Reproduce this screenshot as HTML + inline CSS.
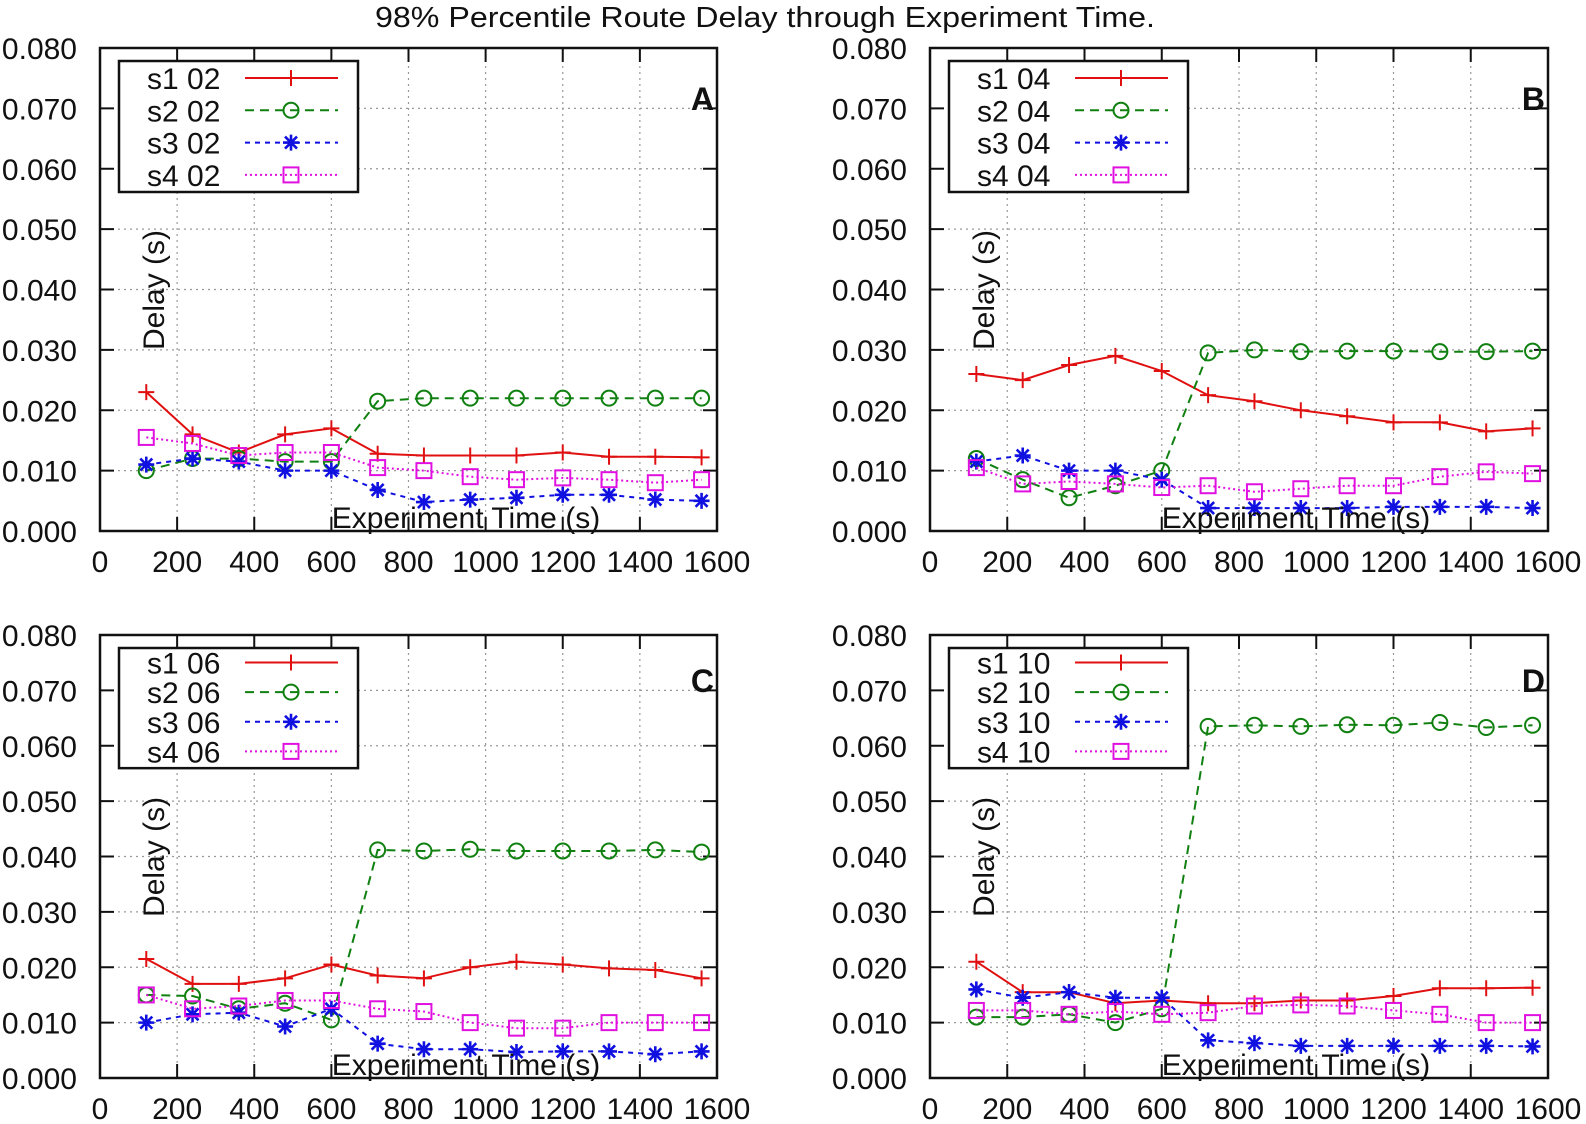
<!DOCTYPE html>
<html><head><meta charset="utf-8"><style>
html,body{margin:0;padding:0;background:#fff;}
svg{display:block;font-family:"Liberation Sans",sans-serif;}
</style></head><body>
<svg id="chart" width="1586" height="1124" viewBox="0 0 1586 1124" xmlns="http://www.w3.org/2000/svg">
<text x="765" y="27" font-size="29" text-anchor="middle" textLength="780" lengthAdjust="spacingAndGlyphs" fill="#111">98% Percentile Route Delay through Experiment Time.</text>
</svg>
<script>
const times = [120,240,360,480,600,720,840,960,1080,1200,1320,1440,1560];
const xTicks = [0,200,400,600,800,1000,1200,1400,1600];
const yTicks = [0.000,0.010,0.020,0.030,0.040,0.050,0.060,0.070,0.080];
const panelLetters = ["A","B","C","D"];
const panelSuffix = ["02","04","06","10"];
const seriesNames = ["s1","s2","s3","s4"];
const aS1 = [.023,.016,.013,.016,.017,.0128,.0125,.0125,.0125,.013,.0123,.0123,.0122];
const aS2 = [.010,.012,.012,.0115,.0115,.0215,.022,.022,.022,.022,.022,.022,.022];
const aS3 = [.011,.012,.0115,.010,.010,.0068,.0048,.0052,.0055,.006,.006,.0052,.005];
const aS4 = [.0155,.0145,.0125,.013,.013,.0105,.010,.009,.0085,.0088,.0085,.008,.0085];
const bS1 = [.026,.025,.0275,.029,.0265,.0225,.0215,.020,.019,.018,.018,.0165,.017];
const bS2 = [.012,.0085,.0055,.0075,.010,.0295,.030,.0297,.0298,.0298,.0297,.0297,.0298];
const bS3 = [.0115,.0125,.010,.010,.0085,.0038,.0038,.0038,.0038,.004,.004,.004,.0038];
const bS4 = [.0105,.0078,.0082,.0078,.0072,.0075,.0065,.007,.0075,.0075,.009,.0098,.0095];
const cS1 = [.0215,.017,.017,.018,.0205,.0185,.018,.020,.021,.0205,.0198,.0195,.018];
const cS2 = [.015,.0148,.0125,.0135,.0105,.0412,.041,.0413,.041,.041,.041,.0412,.0408];
const cS3 = [.010,.0115,.0118,.0093,.0125,.0062,.0052,.0052,.0047,.0048,.0048,.0043,.0048];
const cS4 = [.015,.0125,.013,.014,.014,.0125,.012,.010,.009,.009,.010,.010,.010];
const dS1 = [.021,.0155,.0155,.0135,.014,.0135,.0135,.014,.014,.0148,.0162,.0162,.0163];
const dS2 = [.011,.011,.0115,.010,.0125,.0635,.0637,.0635,.0638,.0637,.0642,.0633,.0637];
const dS3 = [.016,.0145,.0155,.0145,.0145,.0068,.0063,.0058,.0058,.0058,.0058,.0058,.0057];
const dS4 = [.0122,.0122,.0115,.012,.0115,.0118,.013,.0132,.013,.0122,.0115,.010,.010];
const panelData = [[aS1,aS2,aS3,aS4],[bS1,bS2,bS3,bS4],[cS1,cS2,cS3,cS4],[dS1,dS2,dS3,dS4]];

const NS = "http://www.w3.org/2000/svg";
const svg = document.getElementById("chart");
const panels = [{l:100,r:717,t:48,b:531},{l:930,r:1548,t:48,b:531},{l:100,r:717,t:635,b:1078},{l:930,r:1548,t:635,b:1078}];
const colors = ["#e01010","#108010","#1010e0","#e010e0"];
const dashes = ["", "9,6", "5,5", "2,3"];

function mk(tag, attrs, parent){
  const e = document.createElementNS(NS, tag);
  for (const k in attrs) e.setAttribute(k, attrs[k]);
  parent.appendChild(e);
  return e;
}
function marker(g, kind, x, y, col){
  if (kind===0){
    mk("path",{d:`M${x-8},${y}H${x+8}M${x},${y-8}V${y+8}`,stroke:col,"stroke-width":2,fill:"none"},g);
  } else if (kind===1){
    mk("circle",{cx:x,cy:y,r:7.5,stroke:col,"stroke-width":2,fill:"none"},g);
  } else if (kind===2){
    mk("path",{d:`M${x-8},${y}H${x+8}M${x},${y-8}V${y+8}M${x-6},${y-6}L${x+6},${y+6}M${x-6},${y+6}L${x+6},${y-6}`,stroke:col,"stroke-width":2.6,fill:"none"},g);
  } else {
    mk("rect",{x:x-7.5,y:y-7.5,width:15,height:15,stroke:col,"stroke-width":2,fill:"none"},g);
  }
}

panels.forEach((p, pi) => {
  const g = mk("g",{},svg);
  
  
  const xs = v => p.l + (v/1600)*(p.r-p.l);
  const ys = v => p.b - (v/0.08)*(p.b-p.t);
  const vs = (p.b-p.t)/483;
  const grid = mk("g",{},g);
  
  
  xTicks.slice(1,-1).forEach(t => mk("line",{x1:xs(t),x2:xs(t),y1:p.t,y2:p.b,stroke:"#999","stroke-width":1.2,"stroke-dasharray":"2,4"},grid));
  yTicks.slice(1,-1).forEach(t => mk("line",{x1:p.l,x2:p.r,y1:ys(t),y2:ys(t),stroke:"#999","stroke-width":1.2,"stroke-dasharray":"2,4"},grid));
  xTicks.forEach(t => {
    mk("line",{x1:xs(t),x2:xs(t),y1:p.b,y2:p.b-14,stroke:"#111","stroke-width":2},g);
    mk("line",{x1:xs(t),x2:xs(t),y1:p.t,y2:p.t+14,stroke:"#111","stroke-width":2},g);
    const tx = mk("text",{x:xs(t),y:p.b+41,"font-size":30,"text-anchor":"middle",fill:"#111"},g);
    
    
    tx.textContent = t;
  });
  yTicks.forEach(t => {
    mk("line",{x1:p.l,x2:p.l+14,y1:ys(t),y2:ys(t),stroke:"#111","stroke-width":2},g);
    mk("line",{x1:p.r,x2:p.r-14,y1:ys(t),y2:ys(t),stroke:"#111","stroke-width":2},g);
    const ty = mk("text",{x:p.l-23,y:ys(t)+11,"font-size":30,"text-anchor":"end",fill:"#111"},g);
    
    
    ty.textContent = t.toFixed(3);
  });
  panelData[pi].forEach((vals, si) => {
    const sg = mk("g",{},g);
    
    
    const pts = vals.map((v,i)=>xs(times[i]).toFixed(1)+","+ys(v).toFixed(1)).join(" ");
    const pl = mk("polyline",{points:pts,fill:"none",stroke:colors[si],"stroke-width":2},sg);
    if (dashes[si]) pl.setAttribute("stroke-dasharray", dashes[si]);
    vals.forEach((v,i)=>marker(sg, si, xs(times[i]), ys(v), colors[si]));
  });
  const fr = mk("rect",{x:p.l,y:p.t,width:p.r-p.l,height:p.b-p.t,fill:"none",stroke:"#111","stroke-width":2.5},g);
  
  
  const lg = mk("g",{},g);
  
  
  mk("rect",{x:p.l+19,y:p.t+13,width:239,height:131*vs,fill:"#fff",stroke:"#111","stroke-width":2.5},lg);
  seriesNames.forEach((nm, si) => {
    const cy = p.t + (30 + si*32.3)*vs;
    const le = mk("g",{},lg);
    
    
    const t = mk("text",{x:p.l+47,y:cy+11,"font-size":30,fill:"#111"},le);
    t.textContent = nm + " " + panelSuffix[pi];
    const ln = mk("line",{x1:p.l+145,x2:p.l+238,y1:cy,y2:cy,stroke:colors[si],"stroke-width":2},le);
    if (dashes[si]) ln.setAttribute("stroke-dasharray", dashes[si]);
    marker(le, si, p.l+191, cy, colors[si]);
  });
  const pl = mk("text",{x:p.r-3,y:p.t+62*vs,"font-size":32,"font-weight":"bold","text-anchor":"end",fill:"#111"},g);
  
  
  pl.textContent = panelLetters[pi];
  const yl = mk("text",{x:0,y:0,"font-size":30,"text-anchor":"middle",fill:"#111",transform:`translate(${p.l+64},${p.t+242*vs}) rotate(-90)`},g);
  
  
  yl.textContent = "Delay (s)";
  const xl = mk("text",{x:p.l+366,y:p.b-3,"font-size":30,"text-anchor":"middle",fill:"#111"},g);
  
  
  xl.textContent = "Experiment Time (s)";
});
</script>
</body></html>
